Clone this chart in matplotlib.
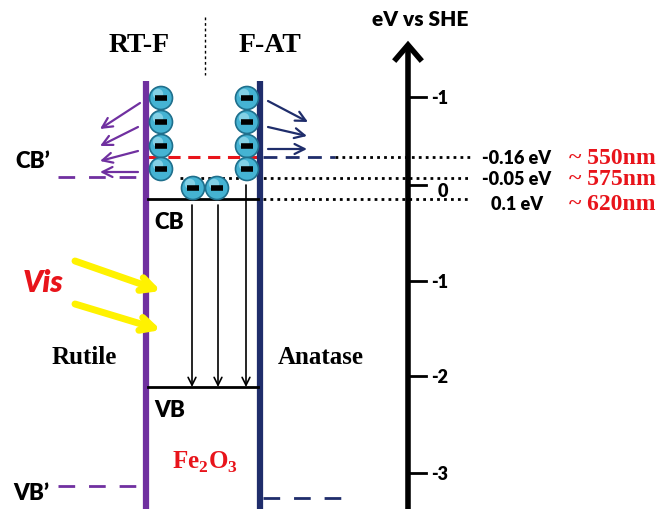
import matplotlib.pyplot as plt
from matplotlib.patches import Circle

plt.rcParams['mathtext.fontset'] = 'custom'
plt.rcParams['mathtext.bf'] = 'Liberation Serif:bold'
plt.rcParams['mathtext.rm'] = 'Liberation Serif:bold'

# schematic drawn in pixel units (y grows downward)
tick_labels = ['-1', '0', '-1', '-2', '-3']
tick_y = [98, 186, 282, 377, 474]

level_labels = ['-0.16 eV', '-0.05 eV', '0.1 eV']
level_nm = ['~ 550nm', '~ 575nm', '~ 620nm']
level_y = [158, 179, 200]

electrons_left_y = [99, 123, 147, 170]
electrons_right_y = [99, 123, 147, 170]
electrons_bottom_x = [193, 217]

PURPLE = '#7030A0'
NAVY = '#1F2D6B'
RED = '#E8141B'
SERIF = 'Liberation Serif'
SANS = 'Lato'

fig = plt.figure(figsize=(6.6, 5.1), dpi=100)
ax = fig.add_axes([0, 0, 1, 1])
ax.set_xlim(0, 660)
ax.set_ylim(510, 0)
ax.axis('off')

# energy axis
ax.plot([408, 408], [510, 48], color='black', lw=4, solid_capstyle='butt')
ax.plot([396, 408, 420], [60, 46, 60], color='black', lw=4, solid_joinstyle='miter')
ax.text(420, 20, 'eV vs SHE', ha='center', va='center', fontsize=15,
        fontweight='heavy', family=SANS)
for lab, y in zip(tick_labels, tick_y):
    ax.plot([408, 426], [y, y], color='black', lw=2)
    dy = 6 if lab == '0' else 1
    x = 438 if lab == '0' else 431
    ax.text(x, y + dy, lab, ha='left', va='center', fontsize=13,
            fontweight='heavy', family=SANS)

# level lines and labels
ax.plot([148, 258], [level_y[0]] * 2, color=RED, lw=2.2, ls=(0, (4, 2.5)))
ax.plot([263, 335], [level_y[0]] * 2, color=NAVY, lw=2, ls=(0, (5, 3)))
ax.plot([335, 470], [level_y[0]] * 2, color='black', lw=2, ls=(0, (1, 1.5)))
ax.plot([180, 470], [level_y[1]] * 2, color='black', lw=2, ls=(0, (1, 1.5)))
ax.plot([263, 470], [level_y[2]] * 2, color='black', lw=2, ls=(0, (1, 1.5)))
for lab, nm, y in zip(level_labels, level_nm, level_y):
    dy = 5 if lab == '0.1 eV' else 1
    ax.text(517, y + dy, lab, ha='center', va='center',
            fontsize=13, fontweight='heavy', family=SANS)
    ax.text(569, y + dy, nm, ha='left', va='center',
            fontsize=17, fontweight='bold', family=SERIF, color=RED)

# interfaces
ax.plot([146, 146], [82, 510], color=PURPLE, lw=4.5, solid_capstyle='butt')
ax.plot([260, 260], [82, 510], color=NAVY, lw=4.5, solid_capstyle='butt')
ax.plot([205, 205], [18, 76], color='black', lw=1, ls=(0, (2, 2)))
ax.text(139, 46, 'RT-F', ha='center', va='center', fontsize=20,
        fontweight='bold', family=SERIF)
ax.text(270, 46, 'F-AT', ha='center', va='center', fontsize=20,
        fontweight='bold', family=SERIF)

# Fe2O3 bands
ax.plot([148, 258], [200, 200], color='black', lw=2)
ax.plot([148, 258], [388, 388], color='black', lw=2)
for x0, y0 in zip([192, 218, 246], [206, 206, 186]):
    ax.annotate('', xy=(x0, 388), xytext=(x0, y0),
                arrowprops=dict(arrowstyle='->', color='black', lw=1.2,
                                mutation_scale=14, shrinkA=0, shrinkB=0))
ax.text(154, 223, 'CB', ha='left', va='center', fontsize=16,
        fontweight='heavy', family=SANS)
ax.text(154, 411, 'VB', ha='left', va='center', fontsize=16,
        fontweight='heavy', family=SANS)
ax.text(205, 462, r'Fe$_\mathbf{2}$O$_\mathbf{3}$', ha='center', va='center',
        fontsize=18, fontweight='bold', family=SERIF, color=RED)

# rutile side
ax.plot([58, 142], [178, 178], color=PURPLE, lw=2, ls=(0, (6, 5)))
ax.plot([58, 142], [487, 487], color=PURPLE, lw=2, ls=(0, (6, 5)))
ax.text(15, 162, "CB\u2019", ha='left', va='center', fontsize=16,
        fontweight='heavy', family=SANS)
ax.text(13, 494, "VB\u2019", ha='left', va='center', fontsize=16,
        fontweight='heavy', family=SANS)
ax.text(84, 358, 'Rutile', ha='center', va='center', fontsize=18,
        fontweight='bold', family=SERIF)
ax.text(321, 358, 'Anatase', ha='center', va='center', fontsize=18,
        fontweight='bold', family=SERIF)
ax.plot([263, 350], [499, 499], color=NAVY, lw=2, ls=(0, (6, 5)))

for (xs, ys), (xe, ye) in zip([(140, 104), (138, 128), (138, 152), (138, 173)],
                              [(100, 130), (100, 147), (100, 162), (100, 173)]):
    ax.annotate('', xy=(xe, ye), xytext=(xs, ys),
                arrowprops=dict(arrowstyle='->', color=PURPLE, lw=1.6,
                                mutation_scale=18, shrinkA=0, shrinkB=0))
for (xs, ys), (xe, ye) in zip([(268, 102), (268, 128), (268, 150)],
                              [(308, 123), (307, 137), (307, 150)]):
    ax.annotate('', xy=(xe, ye), xytext=(xs, ys),
                arrowprops=dict(arrowstyle='->', color=NAVY, lw=1.6,
                                mutation_scale=18, shrinkA=0, shrinkB=0))

# visible light
ax.text(43, 283, 'Vis', ha='center', va='center', fontsize=22,
        fontweight='heavy', style='italic', family=SANS, color=RED)
for ys, ye in [(262, 292), (305, 331)]:
    ax.annotate('', xy=(161, ye), xytext=(75, ys),
                arrowprops=dict(arrowstyle='->', color='#FFF200', lw=5,
                                mutation_scale=24, shrinkA=0, shrinkB=0))


def electron(x, y, r=11.5):
    ax.add_patch(Circle((x, y), r, facecolor='#45B3D3', edgecolor='#1F6F8C',
                        lw=1.2, zorder=5))
    ax.add_patch(Circle((x - 3, y - 4), r * 0.45, facecolor='#9EDDEE',
                        edgecolor='none', alpha=0.7, zorder=5))
    ax.plot([x - 6, x + 6], [y, y], color='black', lw=4,
            solid_capstyle='butt', zorder=6)


for y in electrons_left_y:
    electron(161, y)
for y in electrons_right_y:
    electron(247, y)
for x in electrons_bottom_x:
    electron(x, 189)

fig.savefig('out.png', dpi=100)
